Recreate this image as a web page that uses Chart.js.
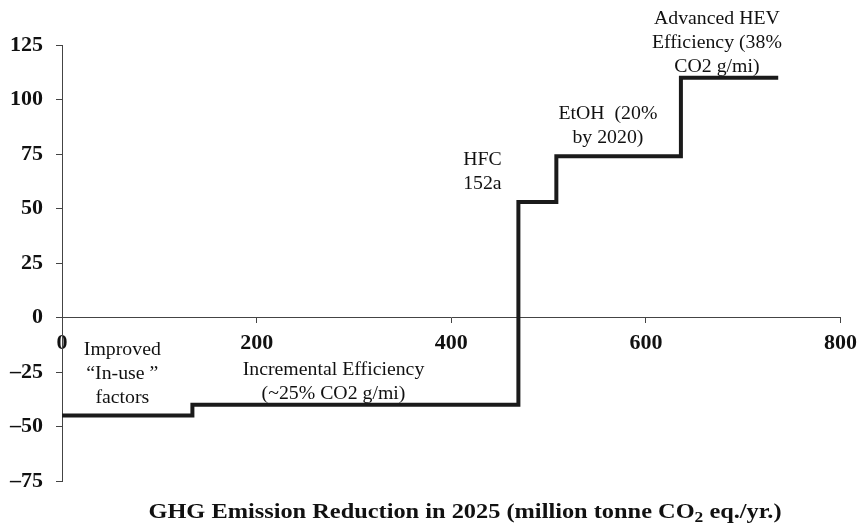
<!DOCTYPE html>
<html>
<head>
<meta charset="utf-8">
<script src="https://cdn.jsdelivr.net/npm/chart.js@4"></script>
<style>
  html, body { margin: 0; padding: 0; background: #fff; }
  #wrap { width: 865px; height: 529px; }
</style>
</head>
<body>
<div id="wrap"><canvas id="macc"></canvas></div>
<script>
// abatement options, left to right along the curve
const options = ['Improved In-use factors', 'Incremental Efficiency', 'HFC 152a', 'EtOH', 'Advanced HEV Efficiency'];
// reduction of each option (million tonne CO2 eq./yr.)
const reductions = [134, 335, 39, 128, 100];
// cost of each option (vertical axis)
const costs = [-45, -40, 53, 74, 110];
const xTicks = [0, 200, 400, 600, 800];
const yTicks = [-75, -50, -25, 0, 25, 50, 75, 100, 125];

// annotation texts, anchored in data units (x centre, y of first line)
const notes = [
  { lines: ['Improved', '\u201CIn-use \u201D', 'factors'], x: 62, y: -15 },
  { lines: ['Incremental Efficiency', '(~25% CO2 g/mi)'], x: 279, y: -24 },
  { lines: ['HFC', '152a'], x: 432, y: 72 },
  { lines: ['EtOH  (20%', 'by 2020)'], x: 561, y: 93 },
  { lines: ['Advanced HEV', 'Efficiency (38%', 'CO2 g/mi)'], x: 673, y: 137 }
];

const SERIF = '"Liberation Serif", "Times New Roman", serif';

// build step points from the widths
let points = [];
let cum = 0;
for (let i = 0; i < reductions.length; i++) {
  points.push({ x: cum, y: costs[i] });
  cum += reductions[i];
}
points.push({ x: cum, y: costs[costs.length - 1] });

// text drawn a bit wider, like the original figure
function wideText(ctx, txt, x, y, sx) {
  ctx.save();
  ctx.translate(x, y);
  ctx.scale(sx, 1);
  ctx.fillText(txt, 0, 0);
  ctx.restore();
}

const textPlugin = {
  id: 'texts',
  afterDraw(chart) {
    const ctx = chart.ctx;
    const xs = chart.scales.x, ys = chart.scales.y;
    ctx.save();
    ctx.fillStyle = '#111';
    ctx.textAlign = 'center';
    ctx.textBaseline = 'middle';
    ctx.font = '18px ' + SERIF;
    notes.forEach(n => {
      const px = xs.getPixelForValue(n.x);
      const py = ys.getPixelForValue(n.y);
      n.lines.forEach((l, i) => wideText(ctx, l, px, py + i * 24, 1.1));
    });

    // axis title with subscript
    const sx = 1.16;
    ctx.font = 'bold 21px ' + SERIF;
    const a = 'GHG Emission Reduction in 2025 (million tonne CO';
    const b = ' eq./yr.)';
    ctx.textAlign = 'left';
    ctx.textBaseline = 'alphabetic';
    const wa = ctx.measureText(a).width * sx;
    const wb = ctx.measureText(b).width * sx;
    ctx.font = 'bold 15px ' + SERIF;
    const ws = ctx.measureText('2').width * sx;
    const total = wa + ws + wb;
    let x0 = 465 - total / 2;
    const by = 518;
    ctx.font = 'bold 21px ' + SERIF;
    wideText(ctx, a, x0, by, sx);
    ctx.font = 'bold 15px ' + SERIF;
    wideText(ctx, '2', x0 + wa, by + 4, sx);
    ctx.font = 'bold 21px ' + SERIF;
    wideText(ctx, b, x0 + wa + ws, by, sx);
    ctx.restore();
  }
};

new Chart(document.getElementById('macc'), {
  type: 'line',
  data: {
    datasets: [{
      label: 'cost',
      data: points,
      stepped: 'before',
      borderColor: '#1a1a1a',
      borderWidth: 4,
      borderCapStyle: 'butt',
      borderJoinStyle: 'miter',
      pointRadius: 0,
      fill: false
    }]
  },
  options: {
    responsive: true,
    maintainAspectRatio: false,
    animation: false,
    layout: { padding: { left: 0, right: 17, top: 45, bottom: 48 } },
    plugins: { legend: { display: false }, tooltip: { enabled: false } },
    scales: {
      x: {
        type: 'linear',
        position: { y: 0 },
        min: 0, max: 800,
        afterBuildTicks: s => { s.ticks = xTicks.map(v => ({ value: v })); },
        grid: { drawOnChartArea: false, drawTicks: true, tickLength: 5, color: '#444' },
        border: { display: true, color: '#444', width: 1 },
        ticks: {
          color: '#111',
          padding: 8,
          maxRotation: 0,
          font: { family: SERIF, size: 22, weight: 'bold' }
        }
      },
      y: {
        type: 'linear',
        min: -75, max: 125,
        afterFit: s => { s.width = 62; },
        afterBuildTicks: s => { s.ticks = yTicks.map(v => ({ value: v })); },
        grid: { drawOnChartArea: false, drawTicks: true, tickLength: 6, color: '#444' },
        border: { display: true, color: '#444', width: 1 },
        ticks: {
          color: '#111',
          padding: 13,
          font: { family: SERIF, size: 22, weight: 'bold' },
          callback: v => v < 0 ? '\u2013' + Math.abs(v) : String(v)
        }
      }
    }
  },
  plugins: [textPlugin]
});
</script>
</body>
</html>
